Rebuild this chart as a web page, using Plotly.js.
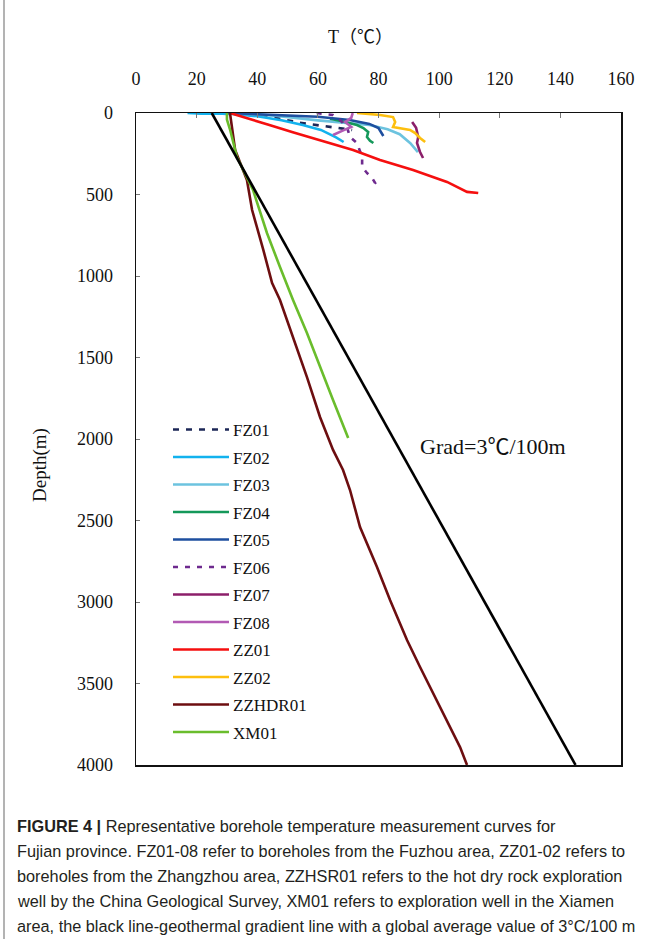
<!DOCTYPE html>
<html>
<head>
<meta charset="utf-8">
<script src="https://cdn.plot.ly/plotly-3.0.1.min.js"></script>
<style>
html,body{margin:0;padding:0;background:#fff;}
#chart{width:651px;height:939px;}
</style>
</head>
<body>
<div id="chart"></div>
<script>
// ---------- data (temperature °C, depth m) ----------
const seriesNames = ["FZ01","FZ02","FZ03","FZ04","FZ05","FZ06","FZ07","FZ08","ZZ01","ZZ02","ZZHDR01","XM01"];

const fz01_T = [20, 35, 45, 54, 62, 71.3];
const fz01_D = [0, 8, 25, 60, 80, 104];

const fz02_T = [17, 22, 25, 31, 40, 48, 55, 61, 66, 68.5];
const fz02_D = [0, 5, 3, 5, 20, 45, 74, 104, 150, 178];

const fz03_T = [30, 45, 60, 70, 77, 83, 87, 90.5, 93];
const fz03_D = [0, 15, 45, 60, 74, 100, 130, 185, 240];

const fz04_T = [64, 68, 72.9, 75, 76.6, 76.2, 77.2, 78.3];
const fz04_D = [35, 50, 74, 92, 117, 147, 170, 184];

const fz05_T = [30, 44, 60, 70.5, 77, 80, 81.6];
const fz05_D = [0, 12, 23, 43, 67, 92, 141];

const fz06_T = [59.6, 64.9, 67.3, 69.6, 70.6, 72.9, 74.6, 74.6, 76.2, 77.9, 78.9, 78.0];
const fz06_D = [0, 12, 43, 86, 147, 184, 270, 331, 368, 399, 430, 450];

const fz07_T = [91.1, 92.4, 93.1, 92.7, 93.7, 94.7];
const fz07_D = [55, 90, 147, 184, 239, 276];

const fz08_T = [71.5, 71, 69, 71, 68, 65];
const fz08_D = [0, 30, 55, 85, 110, 135];

const zz01_T = [31, 33, 38.6, 44, 52, 60.7, 71.6, 80.5, 91.4, 102.6, 109.2, 112.9];
const zz01_D = [0, 12, 43, 74, 120, 166, 227, 288, 350, 423, 484, 491];

const zz02_T = [72.9, 80.5, 84.8, 85.5, 84.8, 90.4, 92.1, 93.7, 95.4];
const zz02_D = [0, 12, 25, 55, 86, 104, 123, 153, 178];

const zzhdr01_T = [31, 32.7, 36.6, 38.3, 42, 44.9, 47.5, 51.8, 56.4, 60.7, 65, 68.3, 70.6, 73.9, 79.5, 83.8, 89.4, 93.7, 98, 102.6, 106.9, 109.2];
const zzhdr01_D = [0, 227, 411, 595, 840, 1043, 1147, 1374, 1620, 1865, 2067, 2190, 2313, 2540, 2785, 2988, 3233, 3399, 3558, 3724, 3890, 4000];

const xm01_T = [30, 30, 31, 33.3, 38.6, 43.2, 47.5, 51.8, 56.4, 60.7, 65, 70];
const xm01_D = [0, 40, 100, 270, 472, 736, 945, 1147, 1350, 1558, 1761, 1994];

// global average geothermal gradient line (3 °C / 100 m)
const grad_T = [25, 145];
const grad_D = [0, 4000];

const xTicks = [0, 20, 40, 60, 80, 100, 120, 140, 160];
const yTicks = [0, 500, 1000, 1500, 2000, 2500, 3000, 3500, 4000];

const captionLines = [
  "<b>FIGURE 4 |</b> Representative borehole temperature measurement curves for",
  "Fujian province. FZ01-08 refer to boreholes from the Fuzhou area, ZZ01-02 refers to",
  "boreholes from the Zhangzhou area, ZZHSR01 refers to the hot dry rock exploration",
  "well by the China Geological Survey, XM01 refers to exploration well in the Xiamen",
  "area, the black line-geothermal gradient line with a global average value of 3°C/100 m"
];

// ---------- styling ----------
const seriesData = [
  [fz01_T, fz01_D], [fz02_T, fz02_D], [fz03_T, fz03_D], [fz04_T, fz04_D],
  [fz05_T, fz05_D], [fz06_T, fz06_D], [fz07_T, fz07_D], [fz08_T, fz08_D],
  [zz01_T, zz01_D], [zz02_T, zz02_D], [zzhdr01_T, zzhdr01_D], [xm01_T, xm01_D]
];
const colors = ["#1c2757","#12b2ee","#6cc3df","#14985a","#1e4f9f","#6e2a8e","#8c1f6a","#b25ab4","#f50f0f","#fdbf0f","#6d0e10","#6abd2c"];
const dashes = ["6px,7px","solid","solid","solid","solid","5px,7px","solid","solid","solid","solid","solid","solid"];

const traces = seriesNames.map((n, i) => ({
  type: "scatter", mode: "lines", name: n,
  x: seriesData[i][0], y: seriesData[i][1],
  legendgroup: n,
  line: {color: colors[i], width: 2.6, dash: dashes[i]}
}));
traces.push({
  type: "scatter", mode: "lines", name: "Grad", showlegend: false,
  x: grad_T, y: grad_D, line: {color: "#000", width: 2.6}
});

// pixel helpers for placing text
const L = 136, T = 113, PW = 485, PH = 652;
const px = v => (v - L) / PW;
const py = v => 1 - (v - T) / PH;

const serif = "Liberation Serif, Times New Roman, serif";
const cjk = "font-family:'Noto Sans CJK SC'";
const annotations = [
  {text: "T\uFF08\u2103\uFF09", xref: "paper", yref: "paper", x: px(360), y: py(37),
   xanchor: "center", yanchor: "middle", showarrow: false,
   font: {family: "Liberation Serif, Noto Sans CJK SC", size: 18, color: "#111"}},
  {text: "Depth(m)", xref: "paper", yref: "paper", x: px(40), y: py(465),
   xanchor: "center", yanchor: "middle", showarrow: false, textangle: -90,
   font: {family: serif, size: 19, color: "#111"}},
  {text: "Grad=3<span style=\"" + cjk + "\">\u2103</span>/100m", xref: "paper", yref: "paper", x: px(493), y: py(444),
   xanchor: "center", yanchor: "middle", showarrow: false,
   font: {family: serif, size: 22, color: "#111"}}
];
captionLines.forEach((t, i) => {
  annotations.push({
    text: t, xref: "paper", yref: "paper", x: px(15), y: py(826 + i * 25),
    xanchor: "left", yanchor: "middle", showarrow: false, align: "left",
    font: {family: "Liberation Sans, Arial, sans-serif", size: 16.3, color: "#231f20"}
  });
});

const layout = {
  width: 651, height: 939,
  margin: {l: L, r: 651 - L - PW, t: T, b: 939 - T - PH, pad: 0},
  paper_bgcolor: "#fff", plot_bgcolor: "#fff",
  showlegend: true,
  legend: {
    x: px(193), y: py(412), xanchor: "left", yanchor: "top",
    bgcolor: "rgba(0,0,0,0)", borderwidth: 0,
    font: {family: serif, size: 17, color: "#111"},
    traceorder: "normal"
  },
  xaxis: {
    range: [0, 160], side: "top", tickvals: xTicks, ticktext: xTicks.map(String),
    ticks: "inside", ticklen: 5, tickcolor: "#777", tickwidth: 1,
    showline: true, linecolor: "#111", linewidth: 1.5, mirror: true,
    showgrid: false, zeroline: false, ticklabelstandoff: 19,
    tickfont: {family: serif, size: 18, color: "#111"}
  },
  yaxis: {
    range: [4000, 0], tickvals: yTicks, ticktext: yTicks.map(String),
    ticks: "inside", ticklen: 4, tickcolor: "#777", tickwidth: 1,
    showline: true, linecolor: "#111", linewidth: 1.5, mirror: true,
    showgrid: false, zeroline: false, ticklabelstandoff: 18,
    tickfont: {family: serif, size: 18, color: "#111"}
  },
  annotations: annotations,
  shapes: [
    {type: "line", xref: "paper", yref: "paper", x0: px(4), x1: px(4), y0: py(0), y1: py(939),
     line: {color: "#9a9a9a", width: 1.5}}
  ]
};

Plotly.newPlot("chart", traces, layout, {staticPlot: true}).then(() => {
  document.querySelectorAll(".legend [clip-path]").forEach(e => e.removeAttribute("clip-path"));
  document.querySelectorAll(".legend .legendlines path").forEach(p => {
    p.setAttribute("d", "M-20,0h56");
  });
  // space legend rows like the reference (~27.5 px apart)
  const items = Array.from(document.querySelectorAll(".legend .traces"));
  let y0 = null;
  items.forEach((g, i) => {
    const m = /translate\(\s*([-\d.]+)[ ,]+([-\d.]+)\s*\)/.exec(g.getAttribute("transform") || "");
    if (!m) return;
    const x = parseFloat(m[1]), y = parseFloat(m[2]);
    if (y0 === null) y0 = y;
    g.setAttribute("transform", "translate(" + x + "," + (y0 + i * 27.5) + ")");
  });
});
</script>
</body>
</html>
